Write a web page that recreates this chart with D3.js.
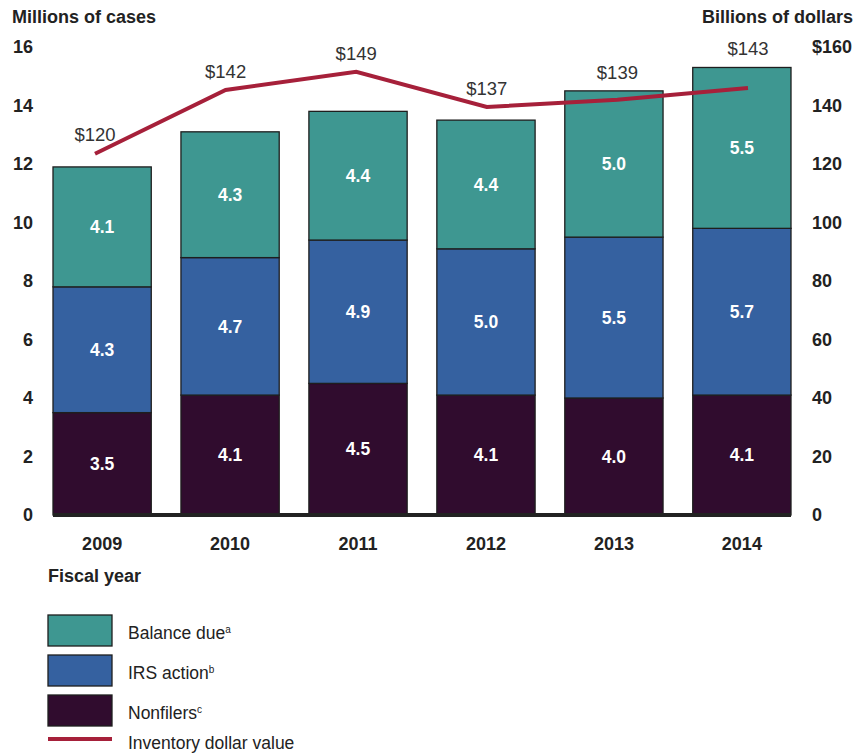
<!DOCTYPE html>
<html>
<head>
<meta charset="utf-8">
<script src="https://cdn.jsdelivr.net/npm/d3@7"></script>
<style>
  html, body { margin: 0; padding: 0; background: #fff; }
  text { font-family: "Liberation Sans", Arial, Helvetica, sans-serif; }
</style>
</head>
<body>
<svg id="chart" width="862" height="753"></svg>
<script>
// ---- Data ----
const years = ["2009", "2010", "2011", "2012", "2013", "2014"];
const nonfilers = [3.5, 4.1, 4.5, 4.1, 4.0, 4.1];
const irsAction = [4.3, 4.7, 4.9, 5.0, 5.5, 5.7];
const balanceDue = [4.1, 4.3, 4.4, 4.4, 5.0, 5.5];
const inventoryValue = [123.5, 145.3, 151.5, 139.5, 142, 146];   // line as plotted
const inventoryLabels = ["$120", "$142", "$149", "$137", "$139", "$143"];
const leftTicks = [0, 2, 4, 6, 8, 10, 12, 14, 16];
const rightTicks = [0, 20, 40, 60, 80, 100, 120, 140, 160];
const rightTickLabels = ["0", "20", "40", "60", "80", "100", "120", "140", "$160"];
const seriesNames = ["Nonfilers", "IRS action", "Balance due"];
const seriesSup = ["c", "b", "a"];
const seriesColors = ["#300c2e", "#3561a0", "#3e9791"];
const lineColor = "#a6203a";

(function () {
const svg = d3.select("#chart");
const pLeft = 53, pRight = 791, pTop = 47, pBottom = 515;
const FS = 18;

const x = d3.scaleBand().domain(years).range([pLeft, pRight]).paddingInner(0.232).paddingOuter(0);
const xLine = d3.scalePoint().domain(years).range([95, 748]);
const y = d3.scaleLinear().domain([0, 16]).range([pBottom, pTop]);
const y2 = d3.scaleLinear().domain([0, 160]).range([pBottom, pTop]);

const rows = years.map((yr, i) => ({ year: yr, "Nonfilers": nonfilers[i], "IRS action": irsAction[i], "Balance due": balanceDue[i] }));
const stack = d3.stack().keys(seriesNames)(rows);

const g = svg.append("g");
stack.forEach((layer, li) => {
  const lg = g.append("g");
  lg.selectAll("rect").data(layer).enter().append("rect")
    .attr("x", d => x(d.data.year))
    .attr("y", d => y(d[1]))
    .attr("width", x.bandwidth())
    .attr("height", d => y(d[0]) - y(d[1]))
    .attr("fill", seriesColors[li])
    .attr("stroke", "#1e1e1e")
    .attr("stroke-width", 1.3);
  lg.selectAll("text").data(layer).enter().append("text")
    .attr("x", d => x(d.data.year) + x.bandwidth() / 2)
    .attr("y", d => (y(d[0]) + y(d[1])) / 2)
    .attr("dy", "0.36em")
    .attr("text-anchor", "middle")
    .attr("fill", "#fff")
    .attr("font-weight", "bold")
    .attr("font-size", 17.5)
    .text(d => (d[1] - d[0]).toFixed(1));
});

svg.append("line")
  .attr("x1", pLeft).attr("x2", pRight)
  .attr("y1", y(0)).attr("y2", y(0))
  .attr("stroke", "#222").attr("stroke-width", 4);

function styleAxis(sel) {
  sel.select(".domain").remove();
  sel.selectAll("text").attr("font-size", FS).attr("font-weight", "bold").attr("fill", "#222")
    .attr("font-family", "Liberation Sans, Arial, sans-serif");
}

const yAxis = d3.axisLeft(y).tickValues(leftTicks).tickSize(0).tickPadding(0);
svg.append("g").attr("transform", "translate(33,0)").call(yAxis).call(styleAxis);

const y2Axis = d3.axisRight(y2).tickValues(rightTicks).tickSize(0).tickPadding(0)
  .tickFormat((d, i) => rightTickLabels[i]);
svg.append("g").attr("transform", "translate(812,0)").call(y2Axis).call(styleAxis);

const xAxis = d3.axisBottom(x).tickSize(0).tickPadding(0);
svg.append("g").attr("transform", `translate(0,${pBottom + 22})`).call(xAxis).call(styleAxis);

svg.append("text").attr("x", 12).attr("y", 23).attr("font-size", FS).attr("font-weight", "bold")
  .attr("fill", "#222").text("Millions of cases");
svg.append("text").attr("x", 853).attr("y", 23).attr("text-anchor", "end").attr("font-size", FS)
  .attr("font-weight", "bold").attr("fill", "#222").text("Billions of dollars");
svg.append("text").attr("x", 48).attr("y", 582).attr("font-size", FS).attr("font-weight", "bold")
  .attr("fill", "#222").text("Fiscal year");

const line = d3.line().x((d, i) => xLine(years[i])).y(d => y2(d));
svg.append("path").datum(inventoryValue)
  .attr("d", line).attr("fill", "none")
  .attr("stroke", lineColor).attr("stroke-width", 4).attr("stroke-linejoin", "miter");

// dollar labels sit above whichever is higher: the line point or the bar top
svg.append("g").selectAll("text").data(inventoryValue).enter().append("text")
  .attr("x", (d, i) => xLine(years[i]))
  .attr("y", (d, i) => Math.min(y2(d), y(stack[2][i][1])) - 19)
  .attr("dy", "0.36em")
  .attr("text-anchor", "middle")
  .attr("font-size", 18.5)
  .attr("fill", "#333")
  .text((d, i) => inventoryLabels[i]);

const legendOrder = [2, 1, 0];
const leg = svg.append("g");
legendOrder.forEach((si, k) => {
  const yy = 615 + k * 40;
  leg.append("rect").attr("x", 48).attr("y", yy).attr("width", 64).attr("height", 31)
    .attr("fill", seriesColors[si]).attr("stroke", "#1e1e1e").attr("stroke-width", 1.3);
  const t = leg.append("text").attr("x", 128).attr("y", yy + 18).attr("dy", "0.36em")
    .attr("font-size", 17.5).attr("fill", "#222");
  t.append("tspan").text(seriesNames[si]);
  t.append("tspan").attr("font-size", 10).attr("dy", "-0.65em").text(seriesSup[si]);
});
leg.append("line").attr("x1", 48).attr("x2", 112).attr("y1", 739).attr("y2", 739)
  .attr("stroke", lineColor).attr("stroke-width", 4);
leg.append("text").attr("x", 128).attr("y", 743).attr("dy", "0.36em").attr("font-size", 17.5)
  .attr("fill", "#222").text("Inventory dollar value");
})();
</script>
</body>
</html>
